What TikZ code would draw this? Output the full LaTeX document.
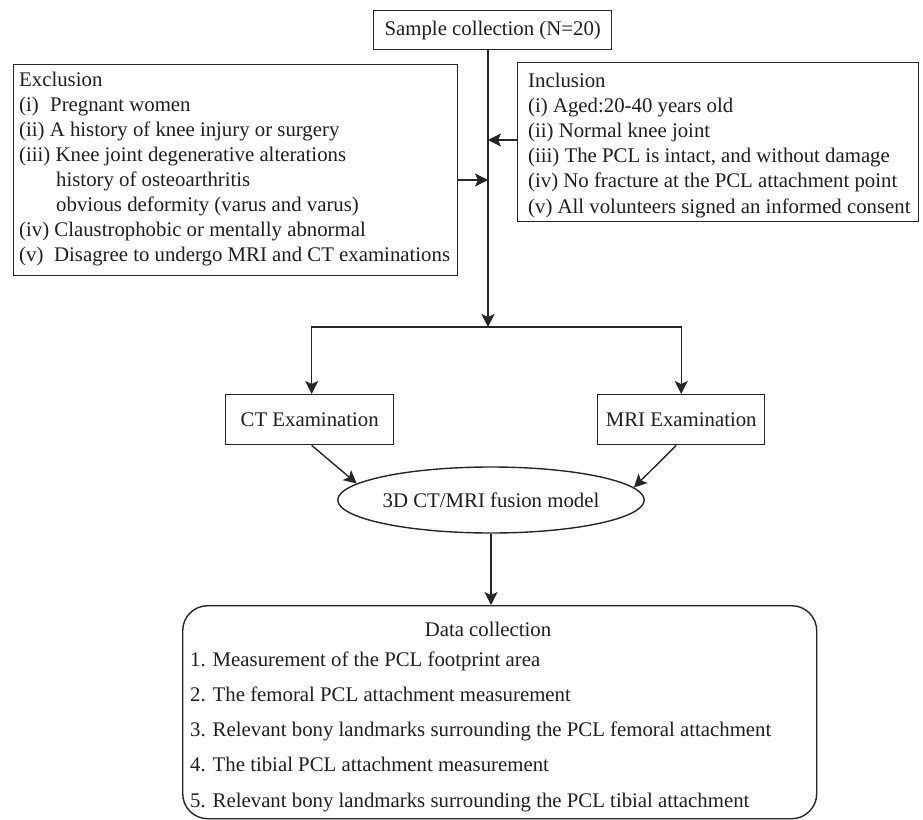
\documentclass[tikz,border=0pt]{standalone}
\usepackage{fontspec}
\setmainfont{Liberation Serif}
\usetikzlibrary{arrows.meta,shapes.geometric}
\definecolor{lc}{HTML}{262626}
\definecolor{tc}{HTML}{1E1E1E}
\tikzset{
  box/.style={draw=lc, line width=1.4pt, inner sep=0pt, text=tc, font=\fontsize{20.8}{25}\selectfont},
  arr/.style={draw=lc, line width=1.4pt, -{Stealth[length=13pt,width=13pt,inset=3pt]}},
  txt/.style={inner sep=0pt, text=tc},
}
\begin{document}
\begin{tikzpicture}[x=1pt,y=-1pt]
\useasboundingbox (0,0) rectangle (923,819);
% boxes
\node[box, minimum width=238, minimum height=39, anchor=north west] (sample) at (373,10) {Sample collection (N=20)};
\node[box, minimum width=444, minimum height=211, anchor=north west] (excl) at (13,64) {};
\node[box, minimum width=401, minimum height=159, anchor=north west] (incl) at (517,62) {};
\node[box, minimum width=168, minimum height=50, anchor=north west] (ct) at (225,394) {CT Examination};
\node[box, minimum width=167, minimum height=50, anchor=north west] (mri) at (597,394) {MRI Examination};
\node[box, ellipse, minimum width=234, minimum height=66] (fusion) at (491,500) {3D CT/MRI fusion model};
\node[box, rounded corners=25pt, minimum width=634, minimum height=213, anchor=north west] (data) at (182,605) {};
% texts
\node[txt, anchor=base west] (excltext) at (19,86) {\parbox[t]{436pt}{\fontsize{20.8}{25}\selectfont
Exclusion\\
\makebox[31pt][l]{(i)}Pregnant women\\
(ii) A history of knee injury or surgery\\
(iii) Knee joint degenerative alterations\\
\hspace*{37pt}history of osteoarthritis\\
\hspace*{37pt}obvious deformity (varus and varus)\\
(iv) Claustrophobic or mentally abnormal\\
\makebox[35pt][l]{(v)}Disagree to undergo MRI and CT examinations}};
\node[txt, anchor=base west] (incltext) at (528,87) {\parbox[t]{388pt}{\fontsize{20.8}{25.2}\selectfont
Inclusion\\
(i) Aged:20-40 years old\\
(ii) Normal knee joint\\
(iii) The PCL is intact, and without damage\\
(iv) No fracture at the PCL attachment point\\
(v) All volunteers signed an informed consent}};
\node[txt, anchor=base, font=\fontsize{20.8}{25}\selectfont] (datatitle) at (488,636) {Data collection};
\node[txt, anchor=base west] (datatext) at (190,666) {\parbox[t]{620pt}{\fontsize{20.8}{35.3}\selectfont
1. Measurement of the PCL footprint area\\
2. The femoral PCL attachment measurement\\
3. Relevant bony landmarks surrounding the PCL femoral attachment\\
4. The tibial PCL attachment measurement\\
5. Relevant bony landmarks surrounding the PCL tibial attachment}};
% connectors
\coordinate (inA) at (488,140);
\coordinate (exA) at (488,180);
\coordinate (split) at (488,327);
\draw[arr] (sample.south -| split) -- (split);
\draw[arr] (incl.west |- inA) -- (inA);
\draw[arr] (excl.east |- exA) -- (exA);
\draw[arr] (split) -| ([xshift=2pt]ct.north);
\draw[arr] (split) -| (mri.north);
\draw[arr] ([xshift=2pt]ct.south) -- (fusion.173);
\draw[arr] ([xshift=-5pt]mri.south) -- (fusion.5);
\draw[arr] (fusion.south) -- (data.north -| fusion.south);
\end{tikzpicture}
\end{document}
